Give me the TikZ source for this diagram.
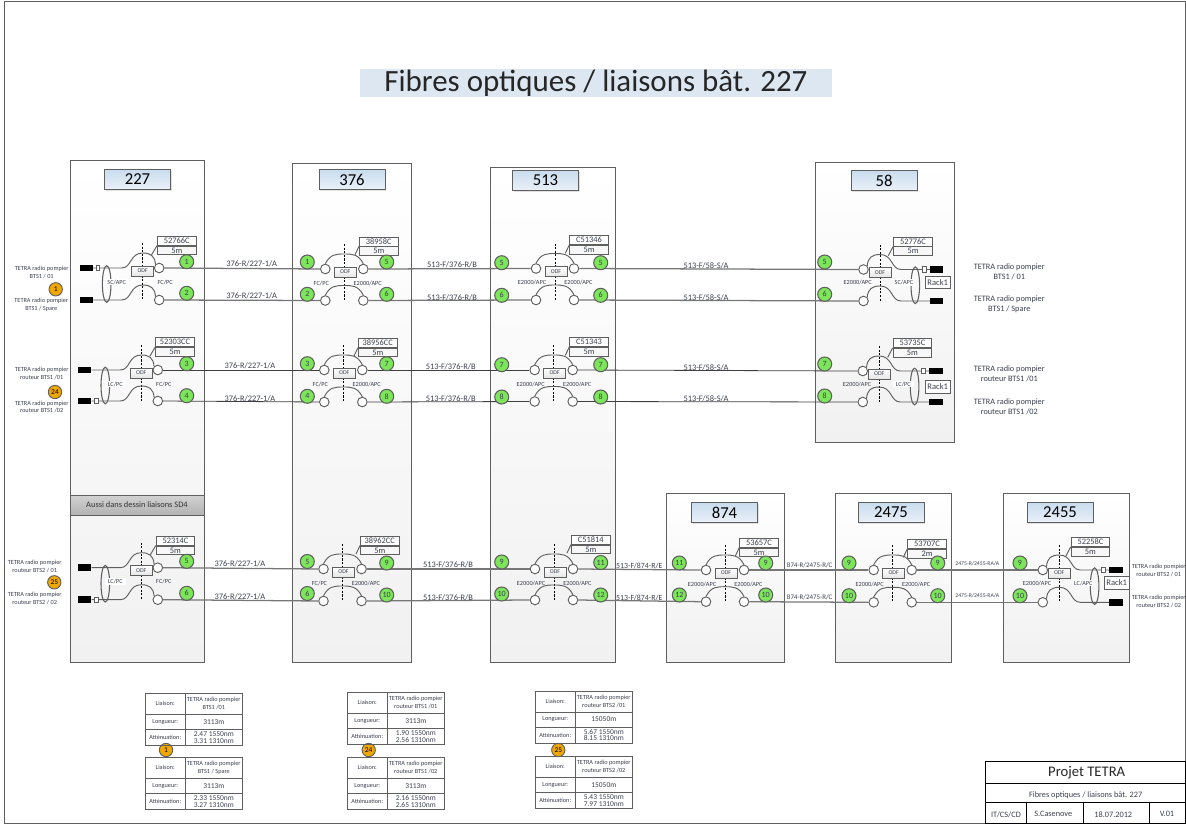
\documentclass[tikz,border=0pt]{standalone}
\usepackage{fontspec}
\setmainfont{Carlito}
\setsansfont{Carlito}
\usepackage{xcolor}
\usepackage{tikz}
\usetikzlibrary{positioning,shadows}
\definecolor{fibgreen}{HTML}{7CE55A}
\definecolor{tagorange}{HTML}{F0A800}
\definecolor{ink}{HTML}{3A404E}
\definecolor{edge}{HTML}{5F5F5F}
\definecolor{titlefill}{HTML}{DCE7F2}
\definecolor{bldtop}{HTML}{C9DCEE}
\definecolor{bldbot}{HTML}{EAF1F8}
\tikzset{
	softshadow/.style={drop shadow={shadow xshift=.9pt, shadow yshift=-.9pt, fill=gray!50, opacity=.45}},
	building/.style={draw=edge, line width=.65pt, top color=white, bottom color=gray!11, softshadow},
	bldname/.style={draw=edge, line width=.65pt, top color=bldtop, bottom color=bldbot, minimum width=49.5pt, minimum height=15pt, inner sep=0pt, font=\fontsize{12.5}{13}\selectfont, text=black, softshadow},
	fibre/.style={draw=edge!85, line width=.95pt},
	fibrethin/.style={draw=black!75, line width=.6pt},
	arcline/.style={draw=edge, line width=.7pt},
	port/.style={circle, draw=edge, line width=.7pt, fill=white, minimum size=7.2pt, inner sep=0pt},
	odfbox/.style={draw=edge, line width=.6pt, top color=white, bottom color=gray!20, minimum width=16.5pt, minimum height=7.5pt, inner sep=0pt, font=\fontsize{4.4}{5}\selectfont, text=ink},
	cablebox/.style={draw=edge, line width=.6pt, fill=white, minimum width=29pt, minimum height=6.6pt, inner sep=0pt, anchor=north west, font=\fontsize{6.3}{6.5}\selectfont, text=ink},
	lenbox/.style={cablebox, anchor=north, fill=gray!6},
	plug/.style={fill=black, minimum width=10pt, minimum height=5.2pt, inner sep=0pt},
	plugtag/.style={draw=edge, line width=.6pt, fill=white, minimum width=2.8pt, minimum height=4.2pt, inner sep=0pt},
	bundle/.style={draw=edge, line width=.8pt},
	odfcut/.style={draw=black, line width=.4pt, dash pattern=on 1.6pt off 1.1pt},
	contype/.style={font=\fontsize{4.7}{5}\selectfont, text=ink, inner sep=0pt},
	ferrule/.style={contype, fill=white, minimum width=16pt, minimum height=5pt},
	linklabel/.style={font=\fontsize{6.3}{6.5}\selectfont, text=ink, inner sep=0pt},
	fibnum/.style={circle, draw=edge, line width=.8pt, fill=fibgreen, minimum size=10.5pt, inner sep=0pt, font=\fontsize{6}{6}\selectfont, text=ink},
	tagnum/.style={circle, draw=edge, line width=.7pt, fill=tagorange, minimum size=10pt, inner sep=0pt, font=\fontsize{5.6}{6}\selectfont, text=black},
	sidetext/.style={align=center, inner sep=0pt, text=ink, font=\fontsize{4.7}{5.8}\selectfont},
	sidebig/.style={align=center, inner sep=0pt, text=ink, font=\fontsize{6.2}{7.5}\selectfont},
	rackbox/.style={draw=edge, line width=.7pt, fill=white, minimum width=19pt, minimum height=9.5pt, inner sep=0pt, font=\fontsize{6.4}{7}\selectfont, text=ink},
	celltext/.style={align=center, inner sep=0pt, text=ink, font=\fontsize{4.7}{5.9}\selectfont},
	cellnum/.style={align=center, inner sep=0pt, text=ink, font=\fontsize{5.6}{5.2}\selectfont},
	cellline/.style={draw=edge, line width=.7pt},
	blocktext/.style={inner sep=0pt, font=\fontsize{6.2}{7}\selectfont, text=ink},
}

\begin{document}
\begin{tikzpicture}[x=0.75pt, y=-0.75pt, font=\sffamily]
	\useasboundingbox (0,0) rectangle (1186,825);
	\draw[edge, line width=.7pt] (4.5,1.5) rectangle (1185,823);

	% Title
	\node[fill=titlefill, minimum width=354pt, minimum height=21pt, inner sep=0pt, font=\fontsize{23.2}{25}\selectfont, text=black!85] (title) at (596,83) {Fibres optiques / liaisons bât. 227};

	% Buildings
	\foreach \n/\xa/\ya/\xb/\yb/\tx/\ty in {227/70/160/204/662/137.5/179.5, 376/292/163/411/662/352/179.5, 513/490/167/615/662/545.5/180.5, 58/815/162/954/442/884/180.5, 874/666/493/784/662/724.5/512.5, 2475/835/493/951/662/891/512.5, 2455/1003.5/493/1129/662/1060/512.5} {
		\draw[building] (\xa,\ya) rectangle (\xb,\yb);
		\node[bldname] (bld\n) at (\tx,\ty) {\n};
	}
	\node[draw=edge, line width=.7pt, top color=gray!35, bottom color=gray!60, minimum width=100.5pt, minimum height=15pt, inner sep=0pt, font=\fontsize{6.3}{7}\selectfont, text=black!80] (sdband) at (137,505) {Aussi dans dessin liaisons SD4};

	% ODF panels with fibres passing through
	\foreach \p/\cx/\ya/\yb/\bx/\by/\ca/\cb/\lbl/\rbl in {
		a376/344.3/269/300.5/359/236.7/38958C/5m/{FC/PC}/{E2000/APC},
		b376/343.3/370/402/358/338/38956CC/5m/{FC/PC}/{E2000/APC},
		c376/342.5/569/601/360/536/38962CC/5m/{FC/PC}/{E2000/APC},
		a513/555/268.5/300/569.3/235.3/C51346/5m/{E2000/APC}/{E2000/APC},
		b513/553.7/370/401.5/569.3/337.3/C51343/5m/{E2000/APC}/{E2000/APC},
		c513/554/569/600/571/535/C51814/5m/{E2000/APC}/{E2000/APC},
		c874/725/570/601.7/739.3/538/53657C/5m/{E2000/APC}/{E2000/APC},
		c2475/892.7/570/602.3/907.3/539.3/53707C/2m/{E2000/APC}/{E2000/APC}} {
		\draw[odfcut] (\cx,\ya-25) -- (\cx,\yb);
		\node[port] (\p-la) at (\cx-19,\ya) {};
		\node[port] (\p-ra) at (\cx+19,\ya) {};
		\node[port] (\p-lb) at (\cx-19,\yb) {};
		\node[port] (\p-rb) at (\cx+19,\yb) {};
		\draw[arcline] (\p-la.north) .. controls (\cx-14,\ya-15) and (\cx-8,\ya-15) .. (\cx,\ya-15) .. controls (\cx+8,\ya-15) and (\cx+14,\ya-15) .. (\p-ra.north);
		\draw[arcline] (\p-lb.north) .. controls (\cx-14,\yb-15) and (\cx-8,\yb-15) .. (\cx,\yb-15) .. controls (\cx+8,\yb-15) and (\cx+14,\yb-15) .. (\p-rb.north);
		\node[odfbox] (\p-odf) at (\cx+1,\ya+3) {ODF};
		\node[cablebox] (\p-cab) at (\bx,\by) {\ca};
		\node[lenbox, below=0pt of \p-cab] (\p-len) {\cb};
		\coordinate (\p-arc) at (\bx-4,\by+18);
		\draw[arcline] (\p-cab.south west) -- (\p-arc);
		\node[contype] (\p-tl) at (\cx-23,\ya+14) {\lbl};
		\node[contype] (\p-tr) at (\cx+23.4,\ya+14) {\rbl};
	}

	% Panels at the left end
	\foreach \p/\cx/\ya/\yb/\bx/\by/\ca/\cb/\lbl/\ty in {
		a227/142.7/268/300/157/236/52766C/5m/{SC/APC}/268,
		b227/141.3/370/401/155.3/337.3/52303CC/5m/{LC/PC}/401,
		c227/141.3/567.7/599.7/155.7/536/52314C/5m/{LC/PC}/599.7} {
		\draw[odfcut] (\cx,\ya-25) -- (\cx,\yb);
		\node[plug] (\p-pa) at (\cx-56.5,\ya) {};
		\node[plug] (\p-pb) at (\cx-56.5,\yb) {};
		\node[port] (\p-ra) at (\cx+16.5,\ya) {};
		\node[port] (\p-rb) at (\cx+16.5,\yb) {};
		\draw[arcline] (\p-pa.east) -- (\cx-21,\ya) .. controls (\cx-11,\ya) and (\cx-13,\ya-15) .. (\cx,\ya-15) .. controls (\cx+8,\ya-15) and (\cx+12,\ya-12) .. (\p-ra.north west);
		\draw[arcline] (\p-pb.east) -- (\cx-21,\yb) .. controls (\cx-11,\yb) and (\cx-13,\yb-15) .. (\cx,\yb-15) .. controls (\cx+8,\yb-15) and (\cx+12,\yb-12) .. (\p-rb.north west);
		\node[plugtag] (\p-tag) at (\cx-44.7,\ty) {};
		\draw[bundle] ({\cx-36},{(\ya+\yb)/2}) ellipse [x radius=4.3, y radius=18.3];
		\node[odfbox] (\p-odf) at (\cx,\ya+3) {ODF};
		\node[cablebox] (\p-cab) at (\bx,\by) {\ca};
		\node[lenbox, below=0pt of \p-cab] (\p-len) {\cb};
		\coordinate (\p-arc) at (\bx-5.5,\by+19);
		\draw[arcline] (\p-cab.south west) -- (\p-arc);
		\node[ferrule] (\p-tl) at (\cx-26,\ya+14) {\lbl};
		\node[contype] (\p-tr) at (\cx+22.5,\ya+14) {FC/PC};
	}

	% Panels at the right end
	\foreach \p/\cx/\ya/\yb/\bx/\by/\ca/\cb/\rbl in {
		a58/880/269.5/301/893.3/236.7/52776C/5m/{SC/APC},
		b58/879.3/371/402/892.7/338.3/53735C/5m/{LC/PC},
		c2455/1059.3/570/602.3/1070.7/537.3/52258C/5m/{LC/APC}} {
		\draw[odfcut] (\cx,\ya-25) -- (\cx,\yb);
		\node[port] (\p-la) at (\cx-16.5,\ya) {};
		\node[port] (\p-lb) at (\cx-16.5,\yb) {};
		\node[plug] (\p-pa) at (\cx+56.8,\ya) {};
		\node[plug] (\p-pb) at (\cx+56.8,\yb) {};
		\draw[arcline] (\p-pa.west) -- (\cx+21,\ya) .. controls (\cx+11,\ya) and (\cx+13,\ya-15) .. (\cx,\ya-15) .. controls (\cx-8,\ya-15) and (\cx-12,\ya-12) .. (\p-la.north east);
		\draw[arcline] (\p-pb.west) -- (\cx+21,\yb) .. controls (\cx+11,\yb) and (\cx+13,\yb-15) .. (\cx,\yb-15) .. controls (\cx-8,\yb-15) and (\cx-12,\yb-12) .. (\p-lb.north east);
		\node[plugtag] (\p-tag) at (\cx+44.3,\ya) {};
		\draw[bundle] ({\cx+35.3},{(\ya+\yb)/2}) ellipse [x radius=4.3, y radius=18.3];
		\node[odfbox] (\p-odf) at (\cx,\ya+3) {ODF};
		\node[cablebox] (\p-cab) at (\bx,\by) {\ca};
		\node[lenbox, below=0pt of \p-cab] (\p-len) {\cb};
		\coordinate (\p-arc) at (\bx-5,\by+19);
		\draw[arcline] (\p-cab.south west) -- (\p-arc);
		\node[contype] (\p-tl) at (\cx-22.3,\ya+13) {E2000/APC};
		\node[ferrule] (\p-tr) at (\cx+24,\ya+13) {\rbl};
	}

	% Fibres between the buildings
	\foreach \s/\d in {a227/a376, a376/a513, a513/a58, c227/c376, c376/c513, c513/c874, c874/c2475, c2475/c2455} {
		\draw[fibre] (\s-ra.east) -- (\d-la.west);
		\draw[fibre] (\s-rb.east) -- (\d-lb.west);
	}
	\foreach \s/\d in {b227/b376, b376/b513, b513/b58} {
		\draw[fibrethin] (\s-ra.east) -- (\d-la.west);
		\draw[fibrethin] (\s-rb.east) -- (\d-lb.west);
	}
	\foreach \x/\y/\t [count=\i] in {937.7/282.3/Rack1, 937.7/386.7/Rack1, 1116.7/583/Rack1} {
		\node[rackbox] (rack\i) at (\x,\y) {\t};
	}

	% Fibre numbers
	\foreach \x/\y/\v [count=\i] in {
		186.7/261.7/1, 186.7/293.3/2, 186.7/363.7/3, 186.7/395.7/4, 186.7/561.3/5, 186.7/593.3/6,
		307.3/262/1, 307.3/294.3/2, 307.3/363.7/3, 307.3/396.3/4, 307.3/561.5/5, 307.3/593.5/6,
		386.7/262/5, 386.7/294.3/6, 386.7/363.7/7, 386.7/396.3/8, 386.7/563/9, 386.7/595/10,
		501.7/262.7/5, 501.7/295.3/6, 501.7/364.7/7, 501.7/397/8, 501.7/562/9, 501.7/594/10,
		600.7/262.7/5, 600.7/295.3/6, 600.7/364.7/7, 600.7/397/8, 600.7/562.5/11, 600.7/595/12,
		824.7/262/5, 824.7/294.3/6, 824.7/364/7, 824.7/396/8,
		679.3/563/11, 679.3/595/12, 765.7/563/9, 765.7/595/10,
		849/563/9, 849/595.7/10, 937.7/563/9, 937.7/595.7/10,
		1020/563/9, 1020/595.7/10} {
		\node[fibnum] (num\i) at (\x,\y) {\v};
	}

	% Link labels
	\foreach \t/\x/\y [count=\i] in {
		{376-R/227-1/A}/251.7/264, {376-R/227-1/A}/251.7/296, {376-R/227-1/A}/250/365.3, {376-R/227-1/A}/250/398.3, {376-R/227-1/A}/240/564, {376-R/227-1/A}/240/597,
		{513-F/376-R/B}/452/265, {513-F/376-R/B}/452/297.7, {513-F/376-R/B}/450.7/366.3, {513-F/376-R/B}/450.7/399, {513-F/376-R/B}/448/564.5, {513-F/376-R/B}/448/598,
		{513-F/58-S/A}/706/266, {513-F/58-S/A}/706/298, {513-F/58-S/A}/706/368, {513-F/58-S/A}/706/399} {
		\node[linklabel] (link\i) at (\x,\y) {\t};
	}
	\node[linklabel, font=\fontsize{5.9}{6.5}\selectfont] (linkk) at (639.3,566) {513-F/874-R/E};
	\node[linklabel, font=\fontsize{5.9}{6.5}\selectfont] (linkl) at (639.3,598) {513-F/874-R/E};
	\node[linklabel, font=\fontsize{5.2}{6}\selectfont] (linkm) at (809.7,565.3) {874-R/2475-R/C};
	\node[linklabel, font=\fontsize{5.2}{6}\selectfont] (linkn) at (809.7,597.3) {874-R/2475-R/C};
	\node[linklabel, font=\fontsize{4.3}{5}\selectfont] (linko) at (977.3,563.7) {2475-R/2455-RA/A};
	\node[linklabel, font=\fontsize{4.3}{5}\selectfont] (linkp) at (977.3,595.3) {2475-R/2455-RA/A};

	% Equipment names
	\foreach \x/\y/\t [count=\i] in {
		41.7/272.3/{TETRA radio pompier\\BTS1 / 01}, 41.3/305/{TETRA radio pompier\\BTS1 / Spare},
		41.7/373.5/{TETRA radio pompier\\routeur BTS1 /01}, 41.7/407/{TETRA radio pompier\\routeur BTS1 /02},
		34.7/566.8/{TETRA radio pompier\\routeur BTS2 / 01}, 34.7/598.3/{TETRA radio pompier\\routeur BTS2 / 02},
		1158.7/570.2/{TETRA radio pompier\\routeur BTS2 / 01}, 1158.7/601.3/{TETRA radio pompier\\routeur BTS2 / 02}} {
		\node[sidetext] (side\i) at (\x,\y) {\t};
	}
	\foreach \y/\t [count=\i] in {272/{BTS1 / 01}, 304.6/{BTS1 / Spare}, 373.3/{routeur BTS1 /01}, 407/{routeur BTS1 /02}} {
		\node[sidebig] (far\i) at (1009.3,\y) {TETRA radio pompier\\\t};
	}
	\foreach \x/\y/\v [count=\i] in {55.7/289.3/1, 55/392/24, 54.3/582.3/25, 166/750/1, 368.7/750/24, 558.3/750/25} {
		\node[tagnum] (tag\i) at (\x,\y) {\v};
	}

	% Measurement tables
	\foreach \x/\y/\ta/\len/\ata/\atb [count=\i] in {
		145.3/693.3/{BTS1 /01}/3113m/2.47 1550nm/3.31 1310nm,
		145.3/757.3/{BTS1 / Spare}/3113m/2.33 1550nm/3.27 1310nm,
		347.3/692.3/{routeur BTS1 /01}/3113m/1.90 1550nm/2.56 1310nm,
		347.3/757.3/{routeur BTS1 /02}/3113m/2.16 1550nm/2.65 1310nm,
		535.3/691/{routeur BTS2 /01}/15050m/5.67 1550nm/8.15 1310nm,
		535.3/756.3/{routeur BTS2 /02}/15050m/5.43 1550nm/7.97 1310nm} {
		\draw[cellline] (\x,\y) rectangle (\x+97,\y+52);
		\draw[cellline] (\x+40,\y) -- (\x+40,\y+52);
		\draw[cellline] (\x,\y+21) -- (\x+97,\y+21);
		\draw[cellline] (\x,\y+36) -- (\x+97,\y+36);
		\node[celltext] (cell\i a) at (\x+20,\y+10.5) {Liaison:};
		\node[celltext] (cell\i b) at (\x+68.5,\y+10.5) {TETRA radio pompier\\\ta};
		\node[celltext] (cell\i c) at (\x+20,\y+28.5) {Longueur:};
		\node[cellnum] (cell\i d) at (\x+68.5,\y+28.5) {\len};
		\node[celltext] (cell\i e) at (\x+20,\y+44) {Atténuation:};
		\node[cellnum] (cell\i f) at (\x+68.5,\y+44) {\ata\\\atb};
	}

	% Title block
	\draw[black, line width=.7pt] (985.5,761) rectangle (1185,823);
	\draw[black, line width=.7pt] (985.5,783.7) -- (1185,783.7);
	\draw[black, line width=.7pt] (985.5,802.3) -- (1185,802.3);
	\foreach \x in {1026,1083.3,1149.3} {
		\draw[black, line width=.7pt] (\x,802.3) -- (\x,823);
	}
	\node[inner sep=0pt, font=\fontsize{11}{12}\selectfont, text=black!85] (project) at (1086.7,772.7) {Projet TETRA};
	\node[blocktext] (subject) at (1085.7,795) {Fibres optiques / liaisons bât. 227};
	\foreach \x/\t [count=\i] in {1006/{IT/CS/CD}, 1053.3/S.Casenove, 1113.3/18.07.2012, 1167/V.01} {
		\node[blocktext] (foot\i) at (\x,814.3) {\t};
	}
\end{tikzpicture}
\end{document}
